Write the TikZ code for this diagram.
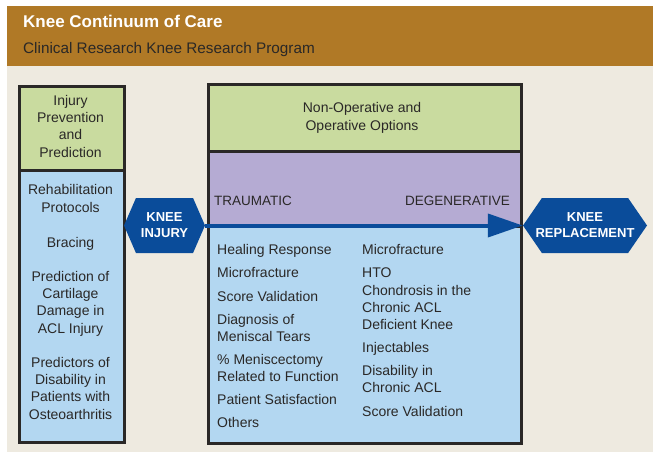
\documentclass[tikz,border=0pt]{standalone}
\usepackage{fontspec}
\setmainfont{Liberation Sans}
\usetikzlibrary{shapes.symbols,arrows.meta}
\definecolor{banner}{HTML}{B07926}
\definecolor{beige}{HTML}{EEEAE0}
\definecolor{lgreen}{HTML}{C9DB9F}
\definecolor{lpurple}{HTML}{B5ABD3}
\definecolor{lblue}{HTML}{B3D7F1}
\definecolor{dblue}{HTML}{0A4C9A}
\definecolor{ink}{HTML}{2A2827}
\begin{document}
\begin{tikzpicture}[x=1pt,y=-1pt,
  panel/.style={draw=ink,line width=2.5pt,inner sep=0pt,anchor=north west},
  bodytext/.style={text=ink,font=\fontsize{14}{17}\selectfont,inner sep=0pt},
  ctext/.style={bodytext,align=center,anchor=base,font=\fontsize{14}{17.3}\selectfont},
  ltext/.style={bodytext,align=left,anchor=base west},
  hexa/.style={signal,signal to=west and east,fill=dblue,draw=none,text=white,
    font=\bfseries\fontsize{13}{16}\selectfont,align=center,inner sep=0pt,
    minimum height=55pt},
]
\useasboundingbox (0,0) rectangle (653,452);
\fill[white] (0,0) rectangle (653,452);
\fill[beige] (7,66) rectangle (653,452);
\fill[banner] (7,6) rectangle (653,66);
\node[anchor=base west,inner sep=0pt,text=white,font=\bfseries\fontsize{17}{20}\selectfont] (title) at (23,28) {Knee Continuum of Care};
\node[anchor=base west,inner sep=0pt,text=ink,font=\fontsize{15.3}{18}\selectfont] (subtitle) at (23,53) {Clinical Research Knee Research Program};

% left panel
\node[panel,fill=lblue,minimum width=105pt,minimum height=356pt] (lbox) at (18,85) {};
\node[panel,fill=lgreen,minimum width=105pt,minimum height=84pt] (lhead) at (18,85) {};
% multi-line nodes are placed by the baseline of their last line
\node[ctext] (l0) at (70.5,157) {Injury\\Prevention\\and\\Prediction};
\node[ctext] (l1) at (70.5,212) {Rehabilitation\\Protocols};
\node[ctext] (l2) at (70.5,247) {Bracing};
\node[ctext] (l3) at (70.5,333) {Prediction of\\Cartilage\\Damage in\\ACL Injury};
\node[ctext] (l4) at (70.5,419) {Predictors of\\Disability in\\Patients with\\Osteoarthritis};

% middle panel
\node[panel,fill=lblue,minimum width=313pt,minimum height=359pt] (mbox) at (207,83) {};
\node[panel,fill=lpurple,minimum width=313pt,minimum height=142pt] (mpur) at (207,83) {};
\node[panel,fill=lgreen,minimum width=313pt,minimum height=67pt] (mhead) at (207,83) {};
\node[ctext,font=\fontsize{14}{18}\selectfont] (m0) at (362,130) {Non-Operative and\\Operative Options};
\node[bodytext,anchor=base west,font=\fontsize{13.5}{16}\selectfont] (trau) at (214,205) {TRAUMATIC};
\node[bodytext,anchor=base east,font=\fontsize{13.5}{16}\selectfont] (dege) at (510,205) {DEGENERATIVE};

\node[ltext] (a1) at (217,254) {Healing Response};
\node[ltext] (a2) at (217,277) {Microfracture};
\node[ltext] (a3) at (217,301) {Score Validation};
\node[ltext] (a4) at (217,341) {Diagnosis of\\Meniscal Tears};
\node[ltext] (a5) at (217,381) {\% Meniscectomy\\Related to Function};
\node[ltext] (a6) at (217,404) {Patient Satisfaction};
\node[ltext] (a7) at (217,427) {Others};

\node[ltext] (b1) at (362,254) {Microfracture};
\node[ltext] (b2) at (362,277) {HTO};
\node[ltext] (b3) at (362,329) {Chondrosis in the\\Chronic ACL\\Deficient Knee};
\node[ltext] (b4) at (362,352) {Injectables};
\node[ltext] (b5) at (362,392) {Disability in\\Chronic ACL};
\node[ltext] (b6) at (362,416) {Score Validation};

% hexagons
\node[hexa,minimum width=81pt,signal pointer angle=133] (inj) at (164.5,225.5) {KNEE\\INJURY};
\node[hexa,minimum width=124pt,signal pointer angle=111,inner xsep=-7pt] (rep) at (585,225.5) {KNEE\\REPLACEMENT};

\draw[dblue,line width=4pt,-{Triangle[length=35pt,width=23pt]}] (inj.east) -- (rep.west);
\end{tikzpicture}
\end{document}
